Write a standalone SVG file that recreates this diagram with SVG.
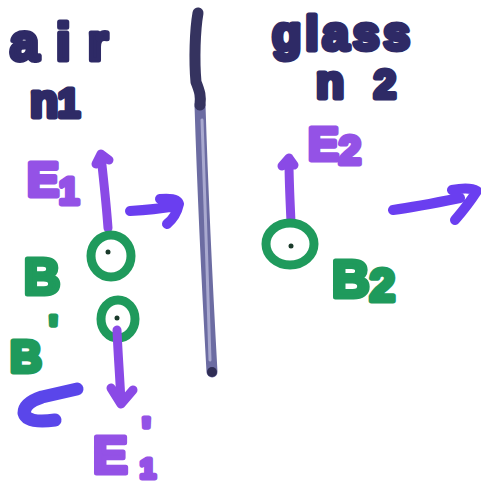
<svg xmlns="http://www.w3.org/2000/svg" width="481" height="484" viewBox="0 0 481 484">
<style>
.ink{fill:none;stroke-linecap:round;stroke-linejoin:round}
.navy{stroke:#2e2a66}
.pur{stroke:#8a4ae6}
.blu{stroke:#6a3ef0}
.grn{stroke:#1f9a5c}
.t{font-family:"Liberation Sans",Arial,sans-serif;font-weight:bold;stroke-linejoin:round;stroke-linecap:round}
.tn{fill:#2e2a66;stroke:#2e2a66;stroke-width:5}
.tp{fill:#9452e6;stroke:#9452e6;stroke-width:5}
.tg{fill:#1f9a5c;stroke:#1f9a5c;stroke-width:5}
</style>
<rect width="481" height="484" fill="#ffffff"/>
<g id="interface">
<path class="ink" d="M200,105 C203,200 208,300 212,372" stroke="#6c6ca2" stroke-width="11"/>
<path class="ink" d="M202,120 C205,200 208,300 210,360" stroke="#a9a9cf" stroke-width="3"/>
<path class="ink" d="M198,13 C195,30 194,60 196,82 C200,92 201,96 200,105" stroke="#35335f" stroke-width="11"/>
<circle cx="212" cy="372" r="5" fill="#2f2d55"/>
</g>
<g id="label-air">
<text class="t tn" x="10" y="60" font-size="52" textLength="98" lengthAdjust="spacing">air</text>
<text class="t tn" x="30" y="117" font-size="46" textLength="50" lengthAdjust="spacing">n<tspan font-size="40">1</tspan></text>
</g>
<g id="label-glass">
<text class="t tn" x="272" y="50" font-size="48" textLength="138" lengthAdjust="spacing">glass</text>
<text class="t tn" x="316" y="98" font-size="46" textLength="80" lengthAdjust="spacing">n<tspan font-size="40">2</tspan></text>
</g>
<g id="incident">
<text class="t tp" x="27" y="196" font-size="48">E<tspan font-size="36" dy="8">1</tspan></text>
<text class="t tg" x="24" y="294" font-size="50">B</text>
<g id="e1-arrow">
<path class="ink pur" d="M108,228 C106,200 103,175 101,156 M96,164 L101,154 L109,160" stroke-width="9"/>
</g>
<g id="k1-arrow">
<path class="ink blu" d="M130,211 C145,210 158,209 170,207 M160,199 C170,198 178,199 179,204 C177,213 172,220 167,224" stroke-width="10"/>
</g>
<g id="b1-dot">
<ellipse class="ink grn" cx="111" cy="256" rx="20" ry="21" stroke-width="9"/>
<circle cx="108" cy="252" r="2.5" fill="#1a3a2a"/>
</g>
</g>
<g id="reflected">
<text class="t tg" x="49" y="342" font-size="36">'</text>
<text class="t tg" x="10" y="372" font-size="44">B</text>
<g id="b1r-dot">
<ellipse class="ink grn" cx="118" cy="319" rx="17" ry="19" stroke-width="9"/>
<circle cx="117" cy="318" r="2.5" fill="#1a3a2a"/>
</g>
<g id="e1r-arrow">
<path class="ink pur" d="M117,330 C118,355 120,380 121,402 M111,388 L121,404 L133,390" stroke-width="9"/>
</g>
<g id="k1r-arrow">
<path class="ink" d="M77,389 L42,397 Q24,403 24,413 Q27,424 55,420" stroke="#5a46ea" stroke-width="13"/>
</g>
<text class="t tp" x="93" y="473" font-size="52">E</text>
<text class="t tp" x="142" y="444" font-size="36">'</text>
<text class="t tp" x="140" y="478" font-size="28">1</text>
</g>
<g id="transmitted">
<text class="t tp" x="308" y="160" font-size="46">E<tspan font-size="40" dy="4">2</tspan></text>
<text class="t tg" x="332" y="297" font-size="52">B<tspan font-size="46" dy="4">2</tspan></text>
<g id="e2-arrow">
<path class="ink pur" d="M291,222 C290,200 289,180 289,162 M282,166 L289,158 L294,165" stroke-width="9"/>
</g>
<g id="b2-dot">
<ellipse class="ink grn" cx="290" cy="244" rx="24" ry="21" stroke-width="9"/>
<circle cx="291" cy="246" r="2.5" fill="#1a3a2a"/>
</g>
<g id="k2-arrow">
<path class="ink blu" d="M393,210 C415,207 440,202 460,198 M452,190 C462,188 472,188 477,191 C470,202 462,212 455,220" stroke-width="10"/>
</g>
</g>
</svg>
